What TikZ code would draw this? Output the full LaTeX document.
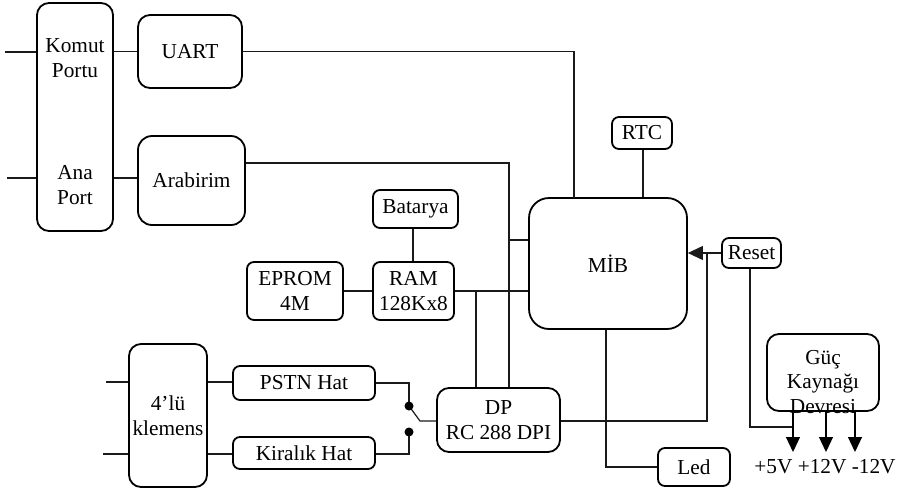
\documentclass[tikz,border=0pt]{standalone}
\usepackage{fontspec}
\setmainfont{Liberation Serif}
\usetikzlibrary{arrows.meta}

\begin{document}
\begin{tikzpicture}[x=1pt, y=-1pt, line width=1.2pt,
    blok/.style={draw, line width=1.8pt, rounded corners=#1, align=center, inner sep=0pt},
    blok/.default=7pt,
    ok/.style={-{Triangle[length=15pt,width=14pt]}}]
    % Define colours
    \definecolor{lineColour}{HTML}{1A1A1A}

    % Define font
    \fontsize{21.3}{24.5}\selectfont

    % Fix the page size
    \useasboundingbox (0,0) rectangle (903,488);

    % Draw the port side
    \node[blok=12pt, minimum width=76, minimum height=228] (port) at (75,117) {};
    \node[align=center] (komut) at (75,58) {Komut\\Portu};
    \node[align=center] (ana) at (75,185) {Ana\\Port};
    \node[blok=12pt, minimum width=104, minimum height=73] (uart) at (190,51.5) {UART};
    \node[blok=14pt, minimum width=107, minimum height=89] (arabirim) at (191.5,180.5) {Arabirim};

    % Draw the memory blocks
    \node[blok, minimum width=96, minimum height=58] (eprom) at (295,291) {EPROM\\4M};
    \node[blok, minimum width=81, minimum height=58] (ram) at (413.5,291) {RAM\\128Kx8};
    \node[blok, minimum width=85, minimum height=38] (batarya) at (415.5,209) {Batarya};

    % Draw the processor and its neighbours
    \node[blok=20pt, minimum width=158, minimum height=131] (mib) at (608,263.5) {M\.{I}B};
    \node[blok, minimum width=60, minimum height=32] (rtc) at (642,133) {RTC};
    \node[blok, minimum width=59, minimum height=30] (reset) at (751.5,253) {Reset};
    \node[blok=12pt, minimum width=112, minimum height=77] (guc) at (823,372.5) {};
    \node[align=center] (gucyazi) at (823,382) {Güç\\Kaynağı\\Devresi};
    \node[blok, minimum width=72, minimum height=38] (led) at (694,467) {Led};

    % Draw the line side
    \node[blok=12pt, minimum width=123, minimum height=64] (dp) at (498.5,420) {DP\\RC 288 DPI};
    \node[blok, minimum width=142, minimum height=34] (pstn) at (304,383) {PSTN Hat};
    \node[blok, minimum width=142, minimum height=32] (kiralik) at (304,453) {Kiralık Hat};
    \node[blok=12pt, minimum width=78, minimum height=143] (klemens) at (168,415.5) {4’lü\\klemens};

    % Define coordinates for free ends and joints
    \coordinate (g1) at (5,52);
    \coordinate (g2) at (7,178);
    \coordinate (g3) at (106,382);
    \coordinate (g4) at (103,454);
    \coordinate (dpa) at (476,387);
    \coordinate (dpb) at (509,387);
    \coordinate (rj) at (707,254);
    \coordinate (rs) at (793,427);
    \coordinate (swp) at (420,421);
    \coordinate (sw1) at (409,406);
    \coordinate (sw2) at (409,432);
    \coordinate (v1) at (793,452);
    \coordinate (v2) at (826,452);
    \coordinate (v3) at (855,452);

    % Draw the connectors
    \begin{scope}[draw=lineColour]
        \draw (g1) -- (g1 -| port.west);
        \draw (g2) -- (g2 -| port.west);
        \draw (port.east |- uart) -- (uart.west);
        \draw (port.east |- 0,178) -- (arabirim.west |- 0,178);
        \draw (uart.east) -| (574,198);
        \draw (arabirim.east |- 0,163) -| (dpb);
        \draw (dpb |- 0,240) -- (mib.west |- 0,240);
        \draw (eprom) -- (ram);
        \draw (ram.north -| 413,0) -- (batarya.south -| 413,0);
        \draw (ram.east) -- (ram.east -| mib.west);
        \draw (dpa |- ram.east) -- (dpa);
        \draw (rtc.south -| 643,0) -- (mib.north -| 643,0);
        \draw[ok] (reset.west) -- (reset.west -| mib.east);
        \draw (dp.east |- 0,421) -| (rj);
        \draw (reset.south -| 750,0) |- (rs);
        \draw ([xshift=-2pt]mib.south) |- (led.west);
        \draw (dp.west |- swp) -- (swp) -- (sw1);
        \draw (pstn.east) -| (sw1);
        \draw (kiralik.east |- 0,454) -| (sw2);
        \draw (g3) -- (g3 -| klemens.west);
        \draw (g4) -- (g4 -| klemens.west);
        \draw (klemens.east |- 0,382) -- (pstn.west |- 0,382);
        \draw (klemens.east |- 0,454) -- (kiralik.west |- 0,454);
    \end{scope}

    % Draw the switch contacts
    \fill (sw1) circle (4.5);
    \fill (sw2) circle (4.5);

    % Draw the supply outputs
    \foreach \v in {v1,v2,v3}
        \draw[ok] (guc.south -| \v) -- (\v);
    \node (gerilim) at (825,467) {+5V +12V -12V};

\end{tikzpicture}
\end{document}
